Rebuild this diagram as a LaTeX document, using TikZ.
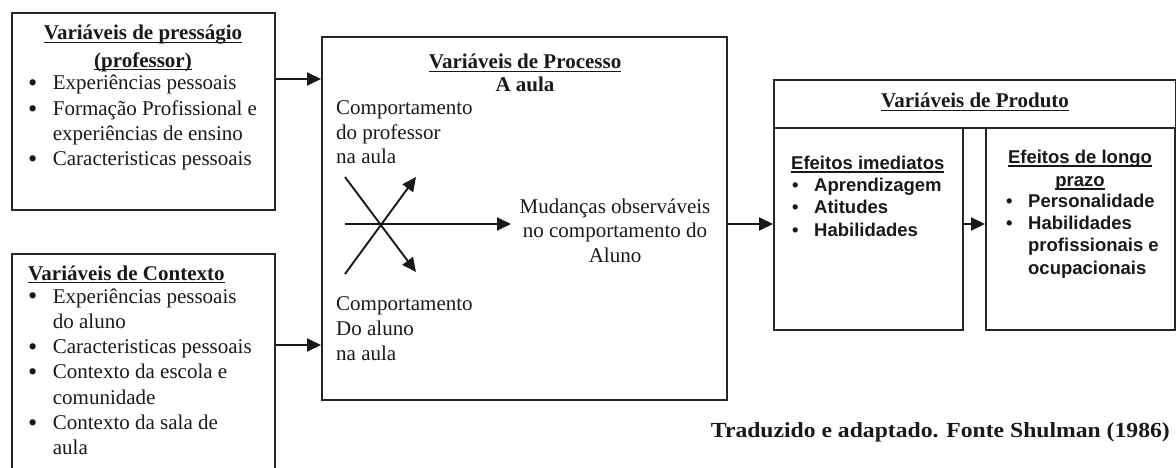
\documentclass[tikz,border=0pt]{standalone}
\usepackage{fontspec}
\setmainfont{Liberation Serif}
\newfontfamily\arialfont{Liberation Sans}
\usepackage{graphicx}
\usetikzlibrary{arrows.meta}
\newsavebox{\ulxbox}
\newcommand{\ulx}[1]{\leavevmode\sbox{\ulxbox}{#1}\rlap{\rule[-3.2pt]{\wd\ulxbox}{1.4pt}}\usebox{\ulxbox}}
\newcommand{\ulbf}[1]{\ulx{\textbf{#1}}}
\newcommand{\bigbul}{\smash{\raisebox{-1.8pt}{\scalebox{1.25}{\textbullet}}}}
\begin{document}
\begin{tikzpicture}[x=1pt,y=-1pt,
  box/.style={draw=black!85, line width=1.9pt, rectangle, inner sep=0pt, anchor=north west},
  arr/.style={line width=1.9pt, black!90, -{Triangle[length=14pt,width=13pt]}},
  serif/.style={font=\fontsize{21}{25.3}\selectfont, inner sep=0pt, text=black!90},
  sans/.style={font=\arialfont\bfseries\fontsize{18.5}{22.2}\selectfont, inner sep=0pt, text=black!90}]
\useasboundingbox (0,0) rectangle (1176,468);
\clip (0,0) rectangle (1176,468);
% boxes
\node[box, minimum width=263pt, minimum height=197pt] (b1) at (11,12) {};
\node[box, minimum width=263pt, minimum height=240pt] (b2) at (11,253) {};
\node[box, minimum width=405pt, minimum height=363pt] (proc) at (321,36) {};
\node[box, minimum width=402pt, minimum height=48pt] (prodt) at (773,79) {};
\node[box, minimum width=189pt, minimum height=202pt] (imed) at (773,127) {};
\node[box, minimum width=189pt, minimum height=202pt] (longo) at (985,127) {};
% connector heights
\coordinate (y1) at (0,79);
\coordinate (y2) at (0,345);
\coordinate (y3) at (0,224);
\draw[arr] (b1.east |- y1) -- (proc.west |- y1);
\draw[arr] (b2.east |- y2) -- (proc.west |- y2);
\draw[arr] (proc.east |- y3) -- (imed.west |- y3);
\draw[arr] (imed.east |- y3) -- (longo.west |- y3);
% cross inside process box
\coordinate (c1) at (345,177);
\coordinate (c2) at (416,272);
\coordinate (c3) at (345,274);
\coordinate (c4) at (416,177);
\coordinate (c5) at (345,224);
\coordinate (c6) at (511,224);
\draw[arr] (c1) -- (c2);
\draw[arr] (c3) -- (c4);
\draw[arr] (c5) -- (c6);
% box 1 texts
\node[serif, anchor=base] (t1) at (143,40) {\begin{tabular}[t]{@{}c@{}}\ulbf{Variáveis de presságio}\\[2pt]\ulbf{(professor)}\end{tabular}};
\node[serif, anchor=base west] (l1) at (28,90) {\begin{tabular}[t]{@{}l@{\hspace{15.5pt}}l@{}}
\bigbul & Experiências pessoais\\
\bigbul & Formação Profissional e\\
 & experiências de ensino\\
\bigbul & Caracteristicas pessoais
\end{tabular}};
% box 2 texts
\node[serif, anchor=base west] (t2) at (28,280) {\ulbf{Variáveis de Contexto}};
\node[serif, anchor=base west] (l2) at (28,303) {\begin{tabular}[t]{@{}l@{\hspace{15.5pt}}l@{}}
\bigbul & Experiências pessoais\\
 & do aluno\\
\bigbul & Caracteristicas pessoais\\
\bigbul & Contexto da escola e\\
 & comunidade\\
\bigbul & Contexto da sala de\\
 & aula
\end{tabular}};
% process texts
\node[serif, anchor=base] (t3) at (525,69) {\begin{tabular}[t]{@{}c@{}}\ulbf{Variáveis de Processo}\\[-2.3pt]\textbf{A aula}\end{tabular}};
\node[serif, anchor=base west] (cp) at (336,115) {\begin{tabular}[t]{@{}l@{}}Comportamento\\[-0.8pt]do professor\\[-0.8pt]na aula\end{tabular}};
\node[serif, anchor=base] (mud) at (615,214) {\begin{tabular}[t]{@{}c@{}}Mudanças observáveis\\[-1.3pt]no comportamento do\\[-1.3pt]Aluno\hspace{44pt}\end{tabular}};
\node[serif, anchor=base west] (ca) at (336,310) {\begin{tabular}[t]{@{}l@{}}Comportamento\\Do aluno\\na aula\end{tabular}};
% product texts
\node[serif, anchor=base] (t4) at (975,108) {\ulbf{Variáveis de Produto}};
\node[sans, anchor=base west] (t5) at (791,169.5) {\ulx{Efeitos imediatos}};
\node[sans, anchor=base west] (l5) at (792,191.8) {\begin{tabular}[t]{@{}l@{\hspace{15.5pt}}l@{}}
\textbullet & Aprendizagem\\
\textbullet & Atitudes\\
\textbullet & Habilidades
\end{tabular}};
\node[sans, anchor=base] (t6) at (1080,163.5) {\begin{tabular}[t]{@{}c@{}}\ulx{Efeitos de longo}\\[0.8pt]\ulx{prazo}\end{tabular}};
\node[sans, anchor=base west] (l6) at (1006,207.5) {\begin{tabular}[t]{@{}l@{\hspace{15.5pt}}l@{}}
\textbullet & Personalidade\\
\textbullet & Habilidades\\
 & profissionais e\\
 & ocupacionais
\end{tabular}};
% caption
\node[serif, anchor=base east] (cap) at (1170,437) {\scalebox{1.1}[1]{\fontsize{21.5}{25}\selectfont\bfseries Traduzido e adaptado. Fonte Shulman (1986)}};
\end{tikzpicture}
\end{document}
